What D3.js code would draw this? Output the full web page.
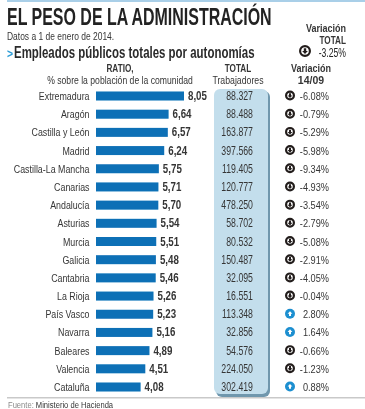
<!DOCTYPE html>
<html><head><meta charset="utf-8">
<script src="https://cdnjs.cloudflare.com/ajax/libs/d3/7.8.5/d3.min.js"></script>
<style>
html,body{margin:0;padding:0;background:#fff}
svg{display:block}
text{font-family:"Liberation Sans",sans-serif;fill:#363636}
</style></head><body>
<script>
const regions=["Extremadura","Aragón","Castilla y León","Madrid","Castilla-La Mancha","Canarias","Andalucía","Asturias","Murcia","Galicia","Cantabria","La Rioja","País Vasco","Navarra","Baleares","Valencia","Cataluña"];
const ratio=[8.05,6.64,6.57,6.24,5.75,5.71,5.70,5.54,5.51,5.48,5.46,5.26,5.23,5.16,4.89,4.51,4.08];
const totals=["88.327","88.488","163.877","397.566","119.405","120.777","478.250","58.702","80.532","150.487","32.095","16.551","113.348","32.856","54.576","224.050","302.419"];
const variation=[-6.08,-0.79,-5.29,-5.98,-9.34,-4.93,-3.54,-2.79,-5.08,-2.91,-4.05,-0.04,2.80,1.64,-0.66,-1.23,0.88];
const W=365,H=409;
const svg=d3.select("body").append("svg").attr("width",W).attr("height",H);
const blur=svg.append("defs").append("filter").attr("id","soft").attr("x","-10%").attr("y","-10%").attr("width","120%").attr("height","120%");
blur.append("feGaussianBlur").attr("stdDeviation",0.35);
const root=svg.append("g").attr("filter","url(#soft)");
const x=d3.scaleLinear().domain([0,8.05]).range([96,184]);
const y=d3.scalePoint().domain(regions).range([96,387]);
const barH=9;
const fmtC=v=>v.toFixed(2).replace(".",",");
const fmtP=v=>v.toFixed(2)+"%";
function txt(parent,px,py,s,size,anchor,sx,opts={}){
  const t=parent.append("text").attr("transform",`translate(${px},${py}) scale(${sx},1)`)
    .attr("font-size",size).attr("text-anchor",anchor||"start").text(s);
  if(opts.bold)t.attr("font-weight","bold");
  if(opts.fill)t.style("fill",opts.fill);
  return t;
}
root.append("rect").attr("x",7).attr("y",0).attr("width",358).attr("height",2).attr("fill","#a9cfe8");
txt(root,7,25,"EL PESO DE LA ADMINISTRACIÓN",23.5,"start",0.68,{bold:true,fill:"#222"});
txt(root,7,40,"Datos a 1 de enero de 2014.",11,"start",0.77);
txt(root,7,58,">",13,"start",0.8,{bold:true,fill:"#2a9bd6"});
txt(root,14,58,"Empleados públicos totales por autonomías",16.5,"start",0.695,{bold:true,fill:"#2b2b2b"});
txt(root,346,32,"Variación",10.5,"end",0.86,{bold:true});
txt(root,346,44,"TOTAL",10.5,"end",0.78,{bold:true});
txt(root,346,57,"-3.25%",12,"end",0.72,{fill:"#222"});
txt(root,120,72,"RATIO,",10.5,"middle",0.78,{bold:true});
txt(root,120,84,"% sobre la población de la comunidad",11.5,"middle",0.75);
txt(root,238,72,"TOTAL",10.5,"middle",0.78,{bold:true});
txt(root,238,84,"Trabajadores",11.5,"middle",0.76);
txt(root,311,72,"Variación",10.5,"middle",0.86,{bold:true});
txt(root,311,84,"14/09",10.5,"middle",1.0,{bold:true});
root.append("rect").attr("x",216).attr("y",91).attr("width",54).attr("height",306).attr("rx",6).attr("fill","#6f97ad");
root.append("rect").attr("x",214).attr("y",89).attr("width",54).attr("height",305).attr("rx",6).attr("fill","#c3deec");
function arrow(cx,cy,up,r){
  const g=root.append("g").attr("transform",`translate(${cx},${cy})`);
  const s=r/5;
  const pts=[[-1,-2.2],[1,-2.2],[1,0],[2.4,0],[0,2.6],[-2.4,0],[-1,0]].map(p=>[p[0]*s,(up?-p[1]:p[1])*s]);
  if(up){
    g.append("circle").attr("r",r).attr("fill","#1e8fd0");
    g.append("polygon").attr("points",pts.join(" ")).attr("fill","#fff");
  }else{
    g.append("circle").attr("r",r-1.1).attr("fill","#fff").attr("stroke","#221d1a").attr("stroke-width",2.2);
    g.append("polygon").attr("points",pts.join(" ")).attr("fill","#221d1a");
  }
}
arrow(305,51,false,6);
const rows=root.selectAll("g.row").data(regions).join("g").attr("class","row");
rows.append("rect").attr("x",x(0)).attr("y",d=>y(d)-barH/2).attr("height",barH)
  .attr("width",(d,i)=>x(ratio[i])-x(0)).attr("fill","#0a6fb6");
rows.each(function(d,i){
  const g=d3.select(this),yy=y(d);
  txt(g,89.5,yy+4,d,11.5,"end",0.77);
  txt(g,x(ratio[i])+4,yy+4,fmtC(ratio[i]),12.5,"start",0.78,{bold:true});
  txt(g,253,yy+4,totals[i],12,"end",0.73);
  txt(g,329,yy+4,fmtP(variation[i]),11.5,"end",0.8);
  arrow(290,yy-0.5,variation[i]>0,5);
});
root.append("rect").attr("x",7).attr("y",397).attr("width",358).attr("height",1.5).attr("fill","#c9c9c9");
const f=txt(root,8,408,"",9.5,"start",0.8);
f.append("tspan").style("fill","#8a8a8a").text("Fuente: ");
f.append("tspan").text("Ministerio de Hacienda");
</script></body></html>
